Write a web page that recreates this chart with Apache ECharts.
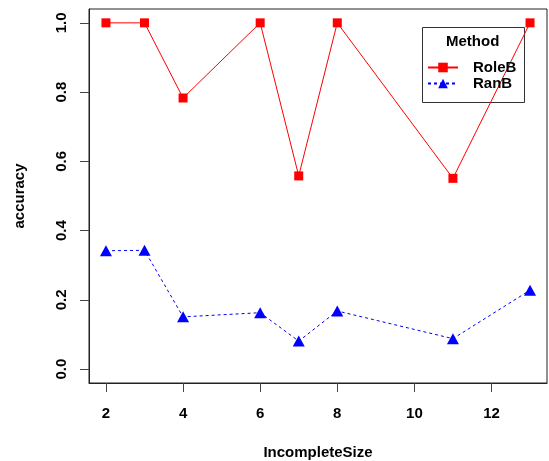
<!DOCTYPE html>
<html><head><meta charset="utf-8">
<script src="https://cdn.jsdelivr.net/npm/echarts@6/dist/echarts.min.js"></script>
<style>html,body{margin:0;padding:0;background:#fff}#c{width:549px;height:461px}</style>
</head><body><div id="c"></div>
<script>
const sizes = [2, 3, 4, 6, 7, 8, 11, 13];
const roleB = [1.0, 1.0, 0.783, 1.0, 0.558, 1.0, 0.551, 1.0];
const ranB = [0.342, 0.343, 0.151, 0.163, 0.081, 0.168, 0.088, 0.228];
const xTicks = [2, 4, 6, 8, 10, 12];
const yTicks = [0.0, 0.2, 0.4, 0.6, 0.8, 1.0];
const seriesNames = ['RoleB', 'RanB'];
const legendTitle = 'Method';

const font = '"Liberation Sans", Arial, sans-serif';
const chart = echarts.init(document.getElementById('c'), null, {renderer: 'canvas'});
chart.setOption({
  animation: false,
  backgroundColor: '#fff',
  grid: {left: 89, top: 9, right: 2, bottom: 78, show: true, borderColor: '#222', borderWidth: 1, outerBoundsMode: 'none', containLabel: false},
  xAxis: {
    type: 'value', min: 1.56, max: 13.44, position: 'bottom',
    name: 'IncompleteSize', nameLocation: 'middle', nameGap: 62,
    nameTextStyle: {fontFamily: font, fontWeight: 'bold', fontSize: 15, color: '#000'},
    splitLine: {show: false},
    axisLine: {show: true, onZero: false, lineStyle: {color: '#222'}},
    axisTick: {show: true, length: 9, inside: false, customValues: xTicks, lineStyle: {color: '#444'}},
    axisLabel: {customValues: xTicks, inside: false, margin: 23, fontFamily: font, fontWeight: 'bold', fontSize: 15, color: '#000', formatter: v => String(v)}
  },
  yAxis: {
    type: 'value', min: -0.04, max: 1.04, position: 'left',
    name: 'accuracy', nameLocation: 'middle', nameGap: 62, nameRotate: 90,
    nameTextStyle: {fontFamily: font, fontWeight: 'bold', fontSize: 15, color: '#000'},
    splitLine: {show: false},
    axisLine: {show: true, onZero: false, lineStyle: {color: '#222'}},
    axisTick: {show: true, length: 9, inside: false, customValues: yTicks, lineStyle: {color: '#444'}},
    axisLabel: {customValues: yTicks, inside: false, rotate: 90, margin: 20, fontFamily: font, fontWeight: 'bold', fontSize: 15, color: '#000', formatter: v => v.toFixed(1)}
  },
  legend: {
    data: seriesNames,
    orient: 'vertical', left: 422, top: 55,
    itemWidth: 30, itemHeight: 12, itemGap: 1,
    textStyle: {fontFamily: font, fontWeight: 'bold', fontSize: 15, color: '#000', padding: [0, 0, 0, 10]}
  },
  graphic: [
    {type: 'rect', left: 422, top: 27, shape: {width: 102, height: 75}, style: {fill: '#fff', stroke: '#333', lineWidth: 1}, z: 0, silent: true},
    {type: 'text', left: 446, top: 34, style: {text: legendTitle, font: 'bold 15px ' + font, fill: '#000'}, z: 1}
  ],
  series: [
    {
      name: seriesNames[0], type: 'line',
      data: sizes.map((s, i) => [s, roleB[i]]),
      symbol: 'rect', symbolSize: 9,
      itemStyle: {color: '#ff0000'},
      lineStyle: {color: '#ff0000', width: 1}
    },
    {
      name: seriesNames[1], type: 'line',
      data: sizes.map((s, i) => [s, ranB[i]]),
      symbol: 'triangle', symbolSize: [12, 11],
      itemStyle: {color: '#0000ff'},
      lineStyle: {color: '#0000ff', width: 1, type: [3, 3]}
    }
  ]
});
</script></body></html>
